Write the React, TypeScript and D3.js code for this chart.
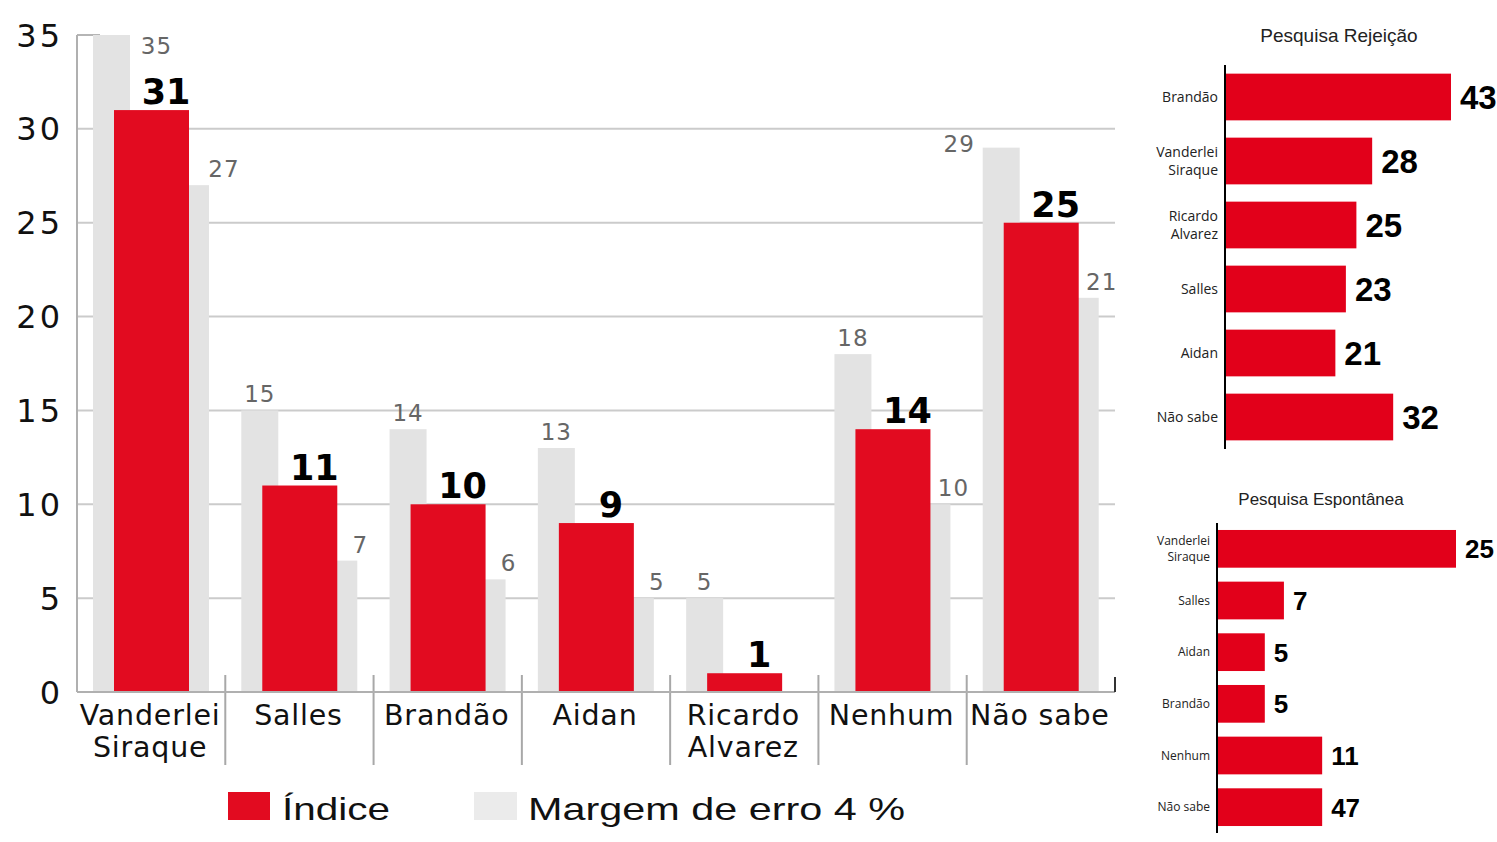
import React from 'react';
import * as d3 from 'd3';

// main chart data
const categories = [['Vanderlei', 'Siraque'], ['Salles'], ['Brandão'], ['Aidan'], ['Ricardo', 'Alvarez'], ['Nenhum'], ['Não sabe']];
const indice = [31, 11, 10, 9, 1, 14, 25];
const margemAlta = [35, 15, 14, 13, 5, 18, 29];
const margemBaixa = [27, 7, 6, 5, null, 10, 21];
const yTicks = [0, 5, 10, 15, 20, 25, 30, 35];

// rejeição
const rejNames = [['Brandão'], ['Vanderlei', 'Siraque'], ['Ricardo', 'Alvarez'], ['Salles'], ['Aidan'], ['Não sabe']];
const rejValues = [43, 28, 25, 23, 21, 32];

// espontânea
const espNames = [['Vanderlei', 'Siraque'], ['Salles'], ['Aidan'], ['Brandão'], ['Nenhum'], ['Não sabe']];
const espLabels = [25, 7, 5, 5, 11, 47];
// bar lengths as drawn in the picture (the 47 bar is drawn as long as the 11 one)
const espBars = [25, 7, 5, 5, 11, 11];

const RED = '#e20b20';
const GRAY = '#e3e3e3';
const MAIN_FONT = '"DejaVu Sans", sans-serif';
const ARIAL = '"Liberation Sans", Arial, sans-serif';

// hand placed labels in the original (first and last upper labels hit the top)
const hiLabelShift: Record<number, [number, number]> = { 0: [45, 27], 6: [-42, 12] };
const loLabelShift: Record<number, number> = { 0: 12 };

const MainChart = () => {
  const x = d3.scaleBand<number>().domain(d3.range(categories.length)).range([77, 1115]);
  const y = d3.scaleLinear().domain([0, 35]).range([692, 35]);
  const step = x.step();
  return (
    <g>
      {yTicks.slice(1, -1).map((t) => (
        <line key={t} x1={77} x2={1115} y1={y(t)} y2={y(t)} stroke="#cbcbcb" strokeWidth={2} />
      ))}
      <line x1={77} x2={100} y1={y(35)} y2={y(35)} stroke="#b5b5b5" strokeWidth={2} />
      <line x1={77} x2={77} y1={y(35)} y2={y(0)} stroke="#b0b0b0" strokeWidth={2} />
      {yTicks.map((t) => (
        <text key={t} x={63} y={y(t)} dy="0.36em" textAnchor="end" fontFamily={MAIN_FONT} fontSize={32} letterSpacing={3} fill="#111">
          {t}
        </text>
      ))}
      {categories.map((c, i) => {
        const b = x(i) as number;
        const hi = margemAlta[i];
        const lo = margemBaixa[i];
        const v = indice[i];
        const hs = hiLabelShift[i] || [0, 0];
        return (
          <g key={i}>
            <rect x={b + 16} y={y(hi)} width={37} height={y(0) - y(hi)} fill={GRAY} />
            {lo !== null && <rect x={b + 95} y={y(lo)} width={37} height={y(0) - y(lo)} fill={GRAY} />}
            <rect x={b + 37} y={y(v)} width={75} height={y(0) - y(v)} fill={RED} />
            <text x={b + 34.5 + hs[0]} y={y(hi) - 8 + hs[1]} textAnchor="middle" fontFamily={MAIN_FONT} fontSize={23} letterSpacing={1} fill="#666">
              {hi}
            </text>
            {lo !== null && (
              <text x={b + 135 + (loLabelShift[i] || 0)} y={y(lo) - 8} textAnchor="middle" fontFamily={MAIN_FONT} fontSize={23} letterSpacing={1} fill="#666">
                {lo}
              </text>
            )}
            <text x={b + 89} y={y(v) - 6} textAnchor="middle" fontFamily={MAIN_FONT} fontWeight="bold" fontSize={35} fill="#000">
              {v}
            </text>
            {c.map((line, k) => (
              <text key={k} x={b + step / 2 - 1} y={725 + k * 32} textAnchor="middle" fontFamily={MAIN_FONT} fontSize={28.5} letterSpacing={0.8} fill="#111">
                {line}
              </text>
            ))}
            {i > 0 && <line x1={b} x2={b} y1={675} y2={765} stroke="#a8a8a8" strokeWidth={2} />}
          </g>
        );
      })}
      <line x1={77} x2={1115} y1={y(0)} y2={y(0)} stroke="#b0b0b0" strokeWidth={2} />
      <line x1={1115} x2={1115} y1={677} y2={692} stroke="#333" strokeWidth={2} />
      {/* legend */}
      <rect x={228} y={792} width={42} height={28} fill={RED} />
      <text x={282} y={820} fontFamily={ARIAL} fontSize={32} textLength={108} lengthAdjust="spacingAndGlyphs" fill="#111">Índice</text>
      <rect x={474} y={792} width={43} height={28} fill="#ebebeb" />
      <text x={528} y={820} fontFamily={ARIAL} fontSize={32} textLength={377} lengthAdjust="spacingAndGlyphs" fill="#111">Margem de erro 4 %</text>
    </g>
  );
};

interface HBarProps {
  title: string;
  titleX: number;
  titleY: number;
  titleSize: number;
  names: string[][];
  bars: number[];
  labels: number[];
  x0: number;
  xMax: number;
  domainMax: number;
  y0: number;
  y1: number;
  nameSize: number;
  valueSize: number;
}

const HBarChart = (p: HBarProps) => {
  const y = d3.scaleBand<number>().domain(d3.range(p.names.length)).range([p.y0, p.y1]).paddingInner(0.27).paddingOuter(0.135);
  const x = d3.scaleLinear().domain([0, p.domainMax]).range([p.x0, p.xMax]);
  const bw = y.bandwidth();
  return (
    <g>
      <text x={p.titleX} y={p.titleY} textAnchor="middle" fontFamily={ARIAL} fontSize={p.titleSize} fill="#222">
        {p.title}
      </text>
      {p.names.map((n, i) => {
        const top = y(i) as number;
        const cy = top + bw / 2;
        return (
          <g key={i}>
            <rect x={p.x0} y={top} width={x(p.bars[i]) - p.x0} height={bw} fill="#e2001a" />
            <text x={x(p.bars[i]) + 9} y={cy} dy="0.36em" fontFamily={ARIAL} fontWeight="bold" fontSize={p.valueSize} fill="#000">
              {p.labels[i]}
            </text>
            {n.map((line, k) => (
              <text
                key={k}
                x={p.x0 - 7}
                y={cy + (k - (n.length - 1) / 2) * p.nameSize * 1.3}
                dy="0.36em"
                textAnchor="end"
                fontFamily='"Open Sans", sans-serif'
                fontSize={p.nameSize}
                fill="#222"
              >
                {line}
              </text>
            ))}
          </g>
        );
      })}
      <line x1={p.x0} x2={p.x0} y1={p.y0} y2={p.y1} stroke="#000" strokeWidth={2} />
    </g>
  );
};

export default function App() {
  return (
    <svg width={1497} height={842} style={{ position: 'absolute', left: 0, top: 0, background: '#fff' }}>
      <rect width={1497} height={842} fill="#fff" />
      <MainChart />
      <HBarChart
        title="Pesquisa Rejeição"
        titleX={1339}
        titleY={42}
        titleSize={19}
        names={rejNames}
        bars={rejValues}
        labels={rejValues}
        x0={1225}
        xMax={1451}
        domainMax={43}
        y0={65}
        y1={449}
        nameSize={14}
        valueSize={33}
      />
      <HBarChart
        title="Pesquisa Espontânea"
        titleX={1321}
        titleY={505}
        titleSize={17}
        names={espNames}
        bars={espBars}
        labels={espLabels}
        x0={1217}
        xMax={1456}
        domainMax={25}
        y0={523}
        y1={833}
        nameSize={12}
        valueSize={26}
      />
    </svg>
  );
}
